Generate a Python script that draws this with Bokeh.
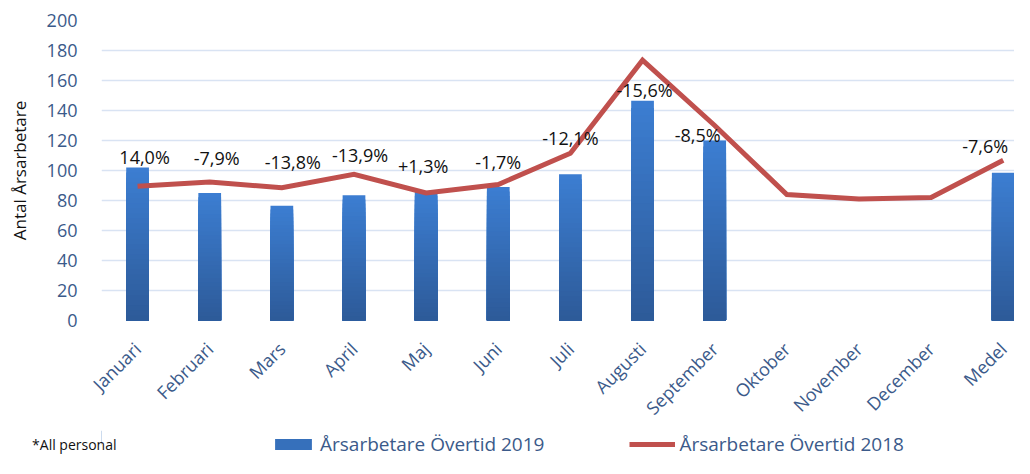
import math
from bokeh.plotting import figure
from bokeh.layouts import column
from bokeh.models import (Range1d, FixedTicker, ColumnDataSource, Legend, LegendItem)
from bokeh.core.properties import value
from bokeh.embed import file_html
from bokeh.resources import INLINE

nan = float("nan")

# ---- data ----
months = ["Januari", "Februari", "Mars", "April", "Maj", "Juni", "Juli",
          "Augusti", "September", "Oktober", "November", "December", "Medel"]
overtid_2019 = [102, 85, 76.5, 83.5, 86, 89, 97.5, 146.5, 120, nan, nan, nan, 98.5]
overtid_2018 = [89.5, 92.3, 88.5, 97.5, 85, 90.7, 111.5, 173.5, 130, 84, 81, 82, 106.8]
change_labels = ["14,0%", "-7,9%", "-13,8%", "-13,9%", "+1,3%", "-1,7%", "-12,1%",
                 "-15,6%", "-8,5%", None, None, None, "-7,6%"]
y_ticks = [0, 20, 40, 60, 80, 100, 120, 140, 160, 180, 200]
series_names = ["Årsarbetare Övertid 2019", "Årsarbetare Övertid 2018"]
footnote = "*All personal"

# label placement tweaks (pixels), like hand-moved Excel data labels
label_dx = [7, 7, 11, 6, -3, 0, 0, 2, -17, 0, 0, 0, -18]
label_dy = [11, 35, 44, 40, 26, 25, 36, 11, 6, 0, 0, 0, 27]

FONT = "Open Sans"
AXIS_COLOR = "#3B5A8A"
BAR_TOP = (60, 126, 210)
BAR_BOT = (45, 90, 152)
BAR_MID = "#3670BB"
LINE_COLOR = "#C0504D"
FRAME_LEFT = 101

p = figure(width=1014, height=430, output_backend="svg", toolbar_location=None,
           x_range=Range1d(-0.5, 12.156), y_range=Range1d(0, 200),
           min_border_left=FRAME_LEFT, min_border_right=0, min_border_top=20,
           min_border_bottom=108)
p.outline_line_color = None
p.background_fill_color = "white"
p.border_fill_color = "white"

xs = list(range(len(months)))

# gradient bars: overlapping bars from full height down, each a bit darker
n_slices = 30
for k in range(n_slices - 1, -1, -1):
    f1 = (k + 1) / n_slices
    t = (k + 0.5) / n_slices
    col = tuple(int(round(BAR_BOT[i] + (BAR_TOP[i] - BAR_BOT[i]) * t)) for i in range(3))
    colhex = "#%02x%02x%02x" % col
    tops = [v * f1 for v in overtid_2019]
    p.vbar(x=xs, bottom=0, top=tops, width=0.315, fill_color=colhex, line_color=None)

p.line(x=xs, y=overtid_2018, line_color=LINE_COLOR, line_width=5, line_join="miter")

# data labels
lab_x, lab_y, lab_t, lab_dx, lab_dy = [], [], [], [], []
for i, t in enumerate(change_labels):
    if t is None:
        continue
    lab_x.append(xs[i])
    lab_y.append(overtid_2019[i])
    lab_t.append(t)
    lab_dx.append(label_dx[i])
    lab_dy.append(-label_dy[i])
src = ColumnDataSource(dict(x=lab_x, y=lab_y, t=lab_t, dx=lab_dx, dy=lab_dy))
p.text(x="x", y="y", text="t", x_offset="dx", y_offset="dy", source=src,
       text_align="center", text_baseline="middle", text_color="#111111",
       text_font=value(FONT), text_font_size="18px")

# axes
p.xaxis.ticker = FixedTicker(ticks=xs)
p.xaxis.major_label_overrides = {i: m for i, m in enumerate(months)}
p.xaxis.major_label_orientation = math.pi / 4
p.xaxis.major_label_text_font = FONT
p.xaxis.major_label_text_font_size = "18px"
p.xaxis.major_label_text_color = AXIS_COLOR
p.xaxis.major_label_standoff = 19
p.xaxis.axis_line_color = None
p.xaxis.major_tick_line_color = None
p.xaxis.minor_tick_line_color = None

p.yaxis.ticker = FixedTicker(ticks=y_ticks)
p.yaxis.major_label_text_font = FONT
p.yaxis.major_label_text_font_size = "18px"
p.yaxis.major_label_text_color = AXIS_COLOR
p.yaxis.major_label_standoff = 18
p.yaxis.axis_line_color = None
p.yaxis.major_tick_line_color = None
p.yaxis.minor_tick_line_color = None
p.yaxis.axis_label = "Antal Årsarbetare"
p.yaxis.axis_label_text_font = FONT
p.yaxis.axis_label_text_font_size = "17px"
p.yaxis.axis_label_text_font_style = "normal"
p.yaxis.axis_label_text_color = "#111111"
p.yaxis.axis_label_standoff = 13

p.xgrid.grid_line_color = None
p.ygrid.grid_line_color = "#D9E3F3"
p.ygrid.grid_line_width = 1.5

# ---- legend strip below the chart ----
q = figure(width=1014, height=28, output_backend="svg", toolbar_location=None,
           x_range=Range1d(0, 1), y_range=Range1d(-1, 1),
           x_axis_type=None,
           min_border_left=FRAME_LEFT, min_border_right=0, min_border_top=0,
           min_border_bottom=0)
q.outline_line_color = None
q.xgrid.grid_line_color = None
q.ygrid.grid_line_color = None
# footnote written as the single label of the strip's left axis
q.yaxis.ticker = FixedTicker(ticks=[0])
q.yaxis.major_label_overrides = {0: footnote}
q.yaxis.major_label_text_font = FONT
q.yaxis.major_label_text_font_size = "14px"
q.yaxis.major_label_text_color = "#111111"
q.yaxis.major_label_standoff = -21
q.yaxis.axis_line_color = None
q.yaxis.major_tick_line_color = None
q.yaxis.minor_tick_line_color = None

# legend-only renderers, placed outside the visible range
r_bar = q.vbar(x=[-10], top=[1], width=0.1, fill_color=BAR_MID, line_color=None)
r_line = q.line(x=[-10, -9], y=[0, 0], line_color=LINE_COLOR, line_width=5)

legend = Legend(items=[
    LegendItem(label=series_names[0], renderers=[r_bar]),
    LegendItem(label=series_names[1], renderers=[r_line]),
], orientation="horizontal", location=(270 - FRAME_LEFT, 1),
    glyph_width=46, glyph_height=14, label_standoff=4, spacing=85,
    label_text_font=FONT, label_text_font_size="19px", label_text_color=AXIS_COLOR,
    background_fill_alpha=0, border_line_color=None, padding=0, margin=0)
q.add_layout(legend, "center")

layout = column(p, q)
open("out.html", "w").write(file_html(layout, INLINE))
